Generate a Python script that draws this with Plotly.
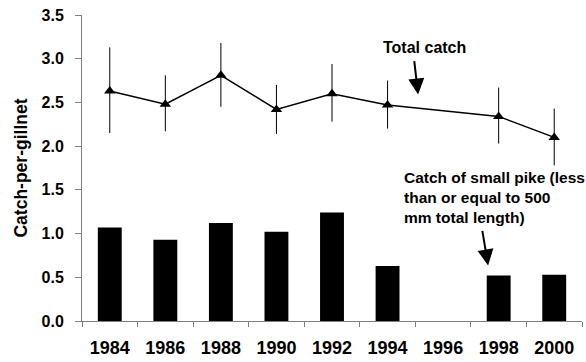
import plotly.graph_objects as go

# Survey years (1996: no sampling)
years = ["1984", "1986", "1988", "1990", "1992", "1994", "1996", "1998", "2000"]

# Total catch-per-gillnet with error bars
total_years = ["1984", "1986", "1988", "1990", "1992", "1994", "1998", "2000"]
total_catch = [2.63, 2.48, 2.81, 2.42, 2.60, 2.47, 2.34, 2.10]
total_err_plus = [0.50, 0.33, 0.37, 0.28, 0.34, 0.28, 0.33, 0.33]
total_err_minus = [0.48, 0.31, 0.36, 0.28, 0.32, 0.27, 0.31, 0.32]

# Small pike (<= 500 mm total length) catch-per-gillnet
small_years = ["1984", "1986", "1988", "1990", "1992", "1994", "1998", "2000"]
small_catch = [1.07, 0.93, 1.12, 1.02, 1.24, 0.63, 0.52, 0.53]

font_family = "Liberation Sans, Arial, sans-serif"

fig = go.Figure()

fig.add_trace(go.Bar(
    x=small_years, y=small_catch,
    width=0.43,
    marker=dict(color="black", line=dict(width=0)),
    showlegend=False,
))

fig.add_trace(go.Scatter(
    x=total_years, y=total_catch,
    mode="lines+markers",
    line=dict(color="black", width=1.5),
    marker=dict(symbol="triangle-up", size=10, color="black"),
    error_y=dict(type="data", symmetric=False,
                 array=total_err_plus, arrayminus=total_err_minus,
                 color="black", thickness=1, width=0),
    showlegend=False,
))

# Labels with arrows pointing to each series
fig.add_annotation(x=5.67, y=3.125, text="<b>Total catch</b>", showarrow=False,
                   xanchor="center", yanchor="middle",
                   font=dict(size=16, color="black", family=font_family))
fig.add_annotation(x=5.55, y=2.59, ax=-4, ay=-35, text="", showarrow=True,
                   arrowhead=2, arrowsize=1.6, arrowwidth=2, arrowcolor="black")

fig.add_annotation(x=5.26, y=1.76,
                   text="<b>Catch of small pike (less<br>than or equal to 500<br>mm total length)</b>",
                   showarrow=False, xanchor="left", yanchor="top", align="left",
                   font=dict(size=15.5, color="black", family=font_family))
fig.add_annotation(x=6.81, y=0.636, ax=-6, ay=-36, text="", showarrow=True,
                   arrowhead=2, arrowsize=1.6, arrowwidth=2, arrowcolor="black")

fig.update_layout(
    width=586, height=362,
    margin=dict(l=82, r=4, t=15, b=39),
    paper_bgcolor="white", plot_bgcolor="white",
    font=dict(family=font_family, color="black"),
    bargap=0.57,
)

fig.update_xaxes(
    type="category", categoryorder="array", categoryarray=years,
    range=[-0.5, 8.5],
    tickson="boundaries", ticks="outside", ticklen=5, tickcolor="#808080",
    showline=True, linecolor="#808080", linewidth=1,
    showgrid=False, zeroline=False, ticklabelstandoff=10,
    tickfont=dict(size=18, family=font_family, color="black", weight="bold"),
)
fig.update_yaxes(
    range=[0, 3.5], dtick=0.5, tickformat=".1f",
    ticks="outside", ticklen=6, tickcolor="#808080",
    showline=True, linecolor="#808080", linewidth=1,
    showgrid=False, zeroline=False, ticklabelstandoff=8,
    tickfont=dict(size=16, family=font_family, color="black", weight="bold"),
    title=dict(text="<b>Catch-per-gillnet</b>", standoff=9,
               font=dict(size=17.5, family=font_family, color="black")),
)

fig.write_html("out.html")
